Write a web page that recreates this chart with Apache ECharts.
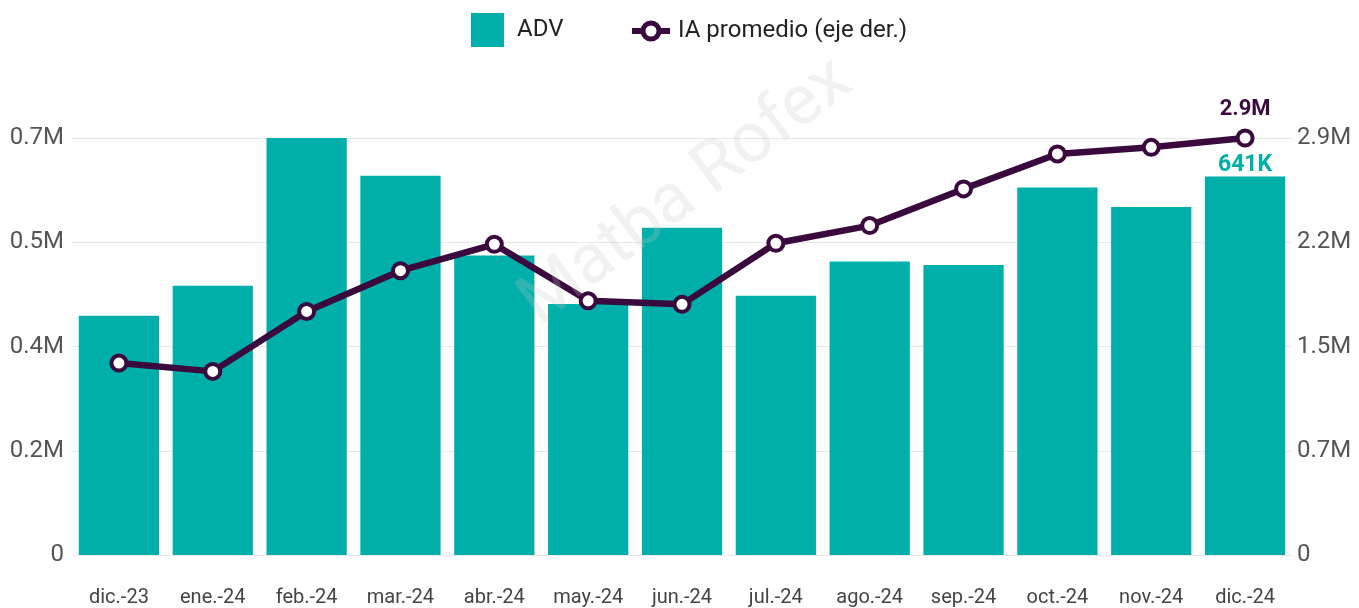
<!DOCTYPE html>
<html>
<head>
<meta charset="utf-8">
<script src="https://cdn.jsdelivr.net/npm/echarts@6/dist/echarts.min.js"></script>
<style>
html, body { margin: 0; padding: 0; background: #fff; }
#main { width: 1359px; height: 608px; }
</style>
</head>
<body>
<div id="main"></div>
<script>
// datos del grafico
var categories = ['dic.-23', 'ene.-24', 'feb.-24', 'mar.-24', 'abr.-24', 'may.-24', 'jun.-24',
    'jul.-24', 'ago.-24', 'sep.-24', 'oct.-24', 'nov.-24', 'dic.-24'];
var advData = [405000, 456000, 706000, 642000, 507000, 425000, 554000, 439000, 497000, 491000, 622000, 589000, 641000];
var iaData = [1335000, 1277000, 1694000, 1977000, 2161000, 1768000, 1743000, 2168000, 2291000, 2546000, 2789000, 2835000, 2900000];
var leftTicks = ['0', '0.2M', '0.4M', '0.5M', '0.7M'];
var rightTicks = ['0', '0.7M', '1.5M', '2.2M', '2.9M'];

var teal = '#00afaa';
var purple = '#3a0a3e';
var font = 'Roboto';

var leftMax = advData[2];
var rightMax = iaData[iaData.length - 1];

function tickLabel(list, max) {
    return function (v) {
        var i = Math.round(v / (max / 4));
        return list[i] != null ? list[i] : '';
    };
}

// solo el ultimo punto lleva etiqueta
var advSeries = advData.map(function (v, i) {
    if (i == advData.length - 1) {
        return { value: v, label: { show: true } };
    }
    return v;
});
var iaSeries = iaData.map(function (v, i) {
    if (i == iaData.length - 1) {
        return { value: v, label: { show: true } };
    }
    return v;
});

var myChart = echarts.init(document.getElementById('main'));
myChart.setOption({
    animation: false,
    textStyle: { fontFamily: font },
    legend: [{
        top: 8,
        left: 466,
        itemWidth: 33,
        itemHeight: 34,
        textStyle: { fontSize: 24, color: '#222', fontFamily: font, padding: [0, 0, 0, 8] },
        data: [{ name: 'ADV', icon: 'rect' }]
    }, {
        top: 14,
        left: 624,
        itemWidth: 38,
        itemHeight: 20,
        textStyle: { fontSize: 24, color: '#222', fontFamily: font, padding: [0, 0, 0, 3] },
        data: [{
            name: 'IA promedio (eje der.)',
            itemStyle: { color: '#fff', borderColor: purple, borderWidth: 5 },
            lineStyle: { color: purple, width: 6 }
        }]
    }],
    graphic: [{
        type: 'text',
        x: 550,
        y: 340,
        rotation: 37 * Math.PI / 180,
        z: 100,
        style: {
            text: 'Matba Rofex',
            fontSize: 70,
            fontFamily: font,
            textAlign: 'left',
            textVerticalAlign: 'bottom',
            fill: 'rgba(200,200,200,0.25)'
        },
        silent: true
    }],
    grid: { left: 72, right: 67, top: 138, bottom: 53 },
    xAxis: [{
        type: 'category',
        data: categories,
        axisLine: { show: false },
        axisTick: { show: false },
        axisLabel: { fontSize: 20, color: '#444', margin: 33, interval: 0 }
    }],
    yAxis: [{
        type: 'value',
        min: 0,
        max: leftMax,
        interval: leftMax / 4,
        splitLine: { lineStyle: { color: '#e8e8e8' } },
        axisLabel: { fontSize: 24, color: '#555', margin: 8, formatter: tickLabel(leftTicks, leftMax) }
    }, {
        type: 'value',
        min: 0,
        max: rightMax,
        interval: rightMax / 4,
        splitLine: { show: false },
        axisLabel: { fontSize: 24, color: '#555', margin: 5, formatter: tickLabel(rightTicks, rightMax) }
    }],
    series: [{
        name: 'ADV',
        type: 'bar',
        barCategoryGap: '14.5%',
        itemStyle: { color: teal },
        label: {
            show: false,
            position: 'top',
            distance: 0,
            color: teal,
            fontSize: 23,
            fontWeight: 'bold',
            formatter: function (p) { return Math.round(p.value / 1000) + 'K'; }
        },
        data: advSeries
    }, {
        name: 'IA promedio (eje der.)',
        type: 'line',
        yAxisIndex: 1,
        symbol: 'circle',
        symbolSize: 15,
        lineStyle: { color: purple, width: 6.5 },
        itemStyle: { color: '#fff', borderColor: purple, borderWidth: 4 },
        label: {
            show: false,
            position: 'top',
            distance: 8,
            color: purple,
            fontSize: 22,
            fontWeight: 'bold',
            formatter: function (p) { return (p.value / 1000000).toFixed(1) + 'M'; }
        },
        data: iaSeries
    }]
});
</script>
</body>
</html>
